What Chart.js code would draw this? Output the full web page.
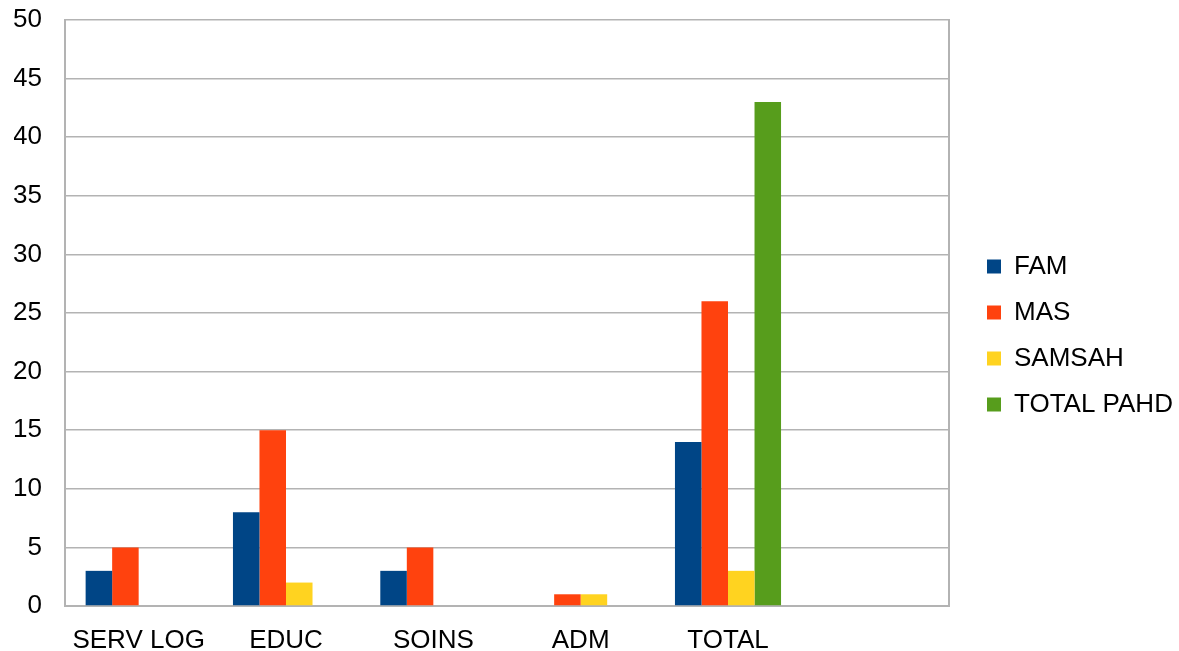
<!DOCTYPE html>
<html lang="fr">
<head>
    <meta charset="UTF-8">
    <title>Effectifs par service</title>
    <script src="https://cdn.jsdelivr.net/npm/chart.js"></script>
    <style>
        html, body {
            margin: 0;
            padding: 0;
            background: #ffffff;
        }
        .chart-container {
            position: relative;
            width: 1179px;
            height: 651px;
        }
    </style>
</head>
<body>
    <div class="chart-container">
        <canvas id="myChart"></canvas>
    </div>
    <script>
        // Données
        const categories = ['SERV LOG', 'EDUC', 'SOINS', 'ADM', 'TOTAL', ''];
        const famValues = [3, 8, 3, null, 14, null];
        const masValues = [5, 15, 5, 1, 26, null];
        const samsahValues = [null, 2, null, 1, 3, null];
        const totalPahdValues = [null, null, null, null, 43, null];
        const yTicks = [0, 5, 10, 15, 20, 25, 30, 35, 40, 45, 50];

        const gridColor = '#b3b3b3';
        const fontFamily = '"Liberation Sans", Arial, sans-serif';
        const fontSize = 26;

        var ctx = document.getElementById('myChart').getContext('2d');
        new Chart(ctx, {
            type: 'bar',
            data: {
                labels: categories,
                datasets: [
                    { label: 'FAM', data: famValues, backgroundColor: '#004586' },
                    { label: 'MAS', data: masValues, backgroundColor: '#ff420e' },
                    { label: 'SAMSAH', data: samsahValues, backgroundColor: '#ffd320' },
                    { label: 'TOTAL PAHD', data: totalPahdValues, backgroundColor: '#579d1c' }
                ]
            },
            options: {
                responsive: true,
                maintainAspectRatio: false,
                animation: false,
                categoryPercentage: 0.72,
                barPercentage: 1,
                layout: {
                    padding: { left: 14, top: 20, right: 2, bottom: 0 }
                },
                plugins: {
                    tooltip: { enabled: false },
                    legend: {
                        position: 'right',
                        maxWidth: 210,
                        labels: {
                            boxWidth: 14,
                            boxHeight: 14,
                            padding: 20,
                            color: '#000',
                            font: { family: fontFamily, size: fontSize }
                        }
                    }
                },
                scales: {
                    x: {
                        grid: { display: false },
                        border: { display: true, color: gridColor, width: 2 },
                        ticks: {
                            color: '#000',
                            padding: 11,
                            maxRotation: 0,
                            autoSkip: false,
                            font: { family: fontFamily, size: fontSize }
                        },
                        afterFit: function(scale) {
                            scale.height = 45;
                        }
                    },
                    y: {
                        min: 0,
                        max: 50,
                        afterBuildTicks: function(scale) {
                            scale.ticks = yTicks.map(v => ({ value: v }));
                        },
                        grid: { color: gridColor, lineWidth: 1.5, drawTicks: false },
                        border: { display: true, color: gridColor, width: 2 },
                        ticks: {
                            color: '#000',
                            padding: 23,
                            font: { family: fontFamily, size: fontSize }
                        },
                        afterFit: function(scale) {
                            scale.width = 51;
                            // le padding des étiquettes ne doit pas décaler le haut du graphique
                            scale.paddingTop = 10;
                            scale.paddingBottom = 10;
                        }
                    },
                    // axe vide à droite : cadre du graphique et espace avant la légende
                    yRight: {
                        position: 'right',
                        min: 0,
                        max: 50,
                        grid: { display: false },
                        border: { display: true, color: gridColor, width: 2 },
                        ticks: { display: false },
                        afterFit: function(scale) {
                            scale.width = 18;
                        }
                    }
                }
            }
        });
    </script>
</body>
</html>
